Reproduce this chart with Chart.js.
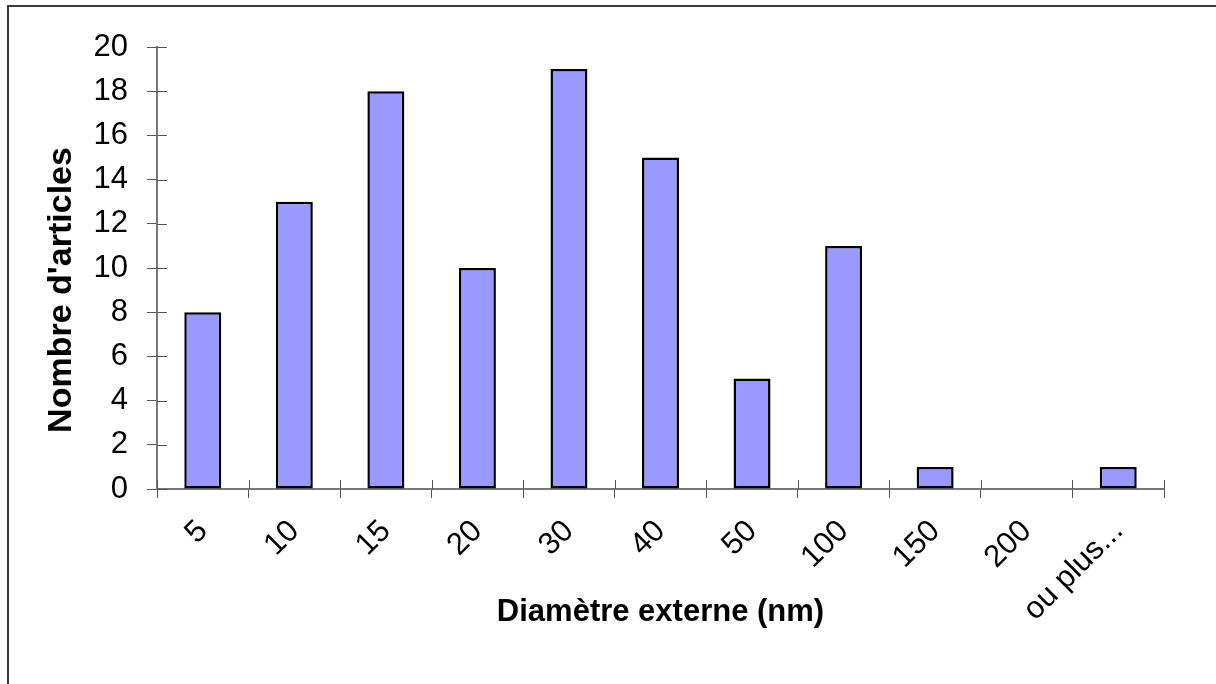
<!DOCTYPE html>
<html>
<head>
<meta charset="utf-8">
<script src="https://cdn.jsdelivr.net/npm/chart.js@4"></script>
<style>
  body { margin: 0; background: #fff; }
  #wrap { position: relative; width: 1216px; height: 684px; overflow: hidden; }
  #cadre { position: absolute; left: 7px; top: 5px; width: 1400px; height: 900px;
           border-left: 2px solid #3a3a3a; border-top: 2px solid #3a3a3a; pointer-events: none; }
</style>
</head>
<body>
<div id="wrap">
  <canvas id="graphique" width="1216" height="684"></canvas>
  <div id="cadre"></div>
</div>
<script>
// =============================
// DONNEES
// =============================
const categories = ["5", "10", "15", "20", "30", "40", "50", "100", "150", "200", "ou plus..."];
const nbArticles = [8, 13, 18, 10, 19, 15, 5, 11, 1, 0, 1];
const yMin = 0, yMax = 20, yPas = 2;
const titreX = "Diamètre externe (nm)";
const titreY = "Nombre d'articles";

const POLICE = "'Liberation Sans', Arial, sans-serif";

// petits traits de graduation du cote interieur des axes
const traitsInterieurs = {
    id: 'traitsInterieurs',
    afterDraw(chart) {
        const ctx = chart.ctx;
        const x = chart.scales.x, y = chart.scales.y;
        ctx.save();
        ctx.strokeStyle = '#555';
        ctx.lineWidth = 1;
        ctx.beginPath();
        y.ticks.forEach((t, i) => {
            const py = Math.round(y.getPixelForTick(i)) + 0.5;
            ctx.moveTo(y.right, py);
            ctx.lineTo(y.right + 10, py);
        });
        const n = categories.length;
        for (let i = 0; i <= n; i++) {
            const px = Math.round(x.left + i * x.width / n) + 0.5;
            ctx.moveTo(px, x.top);
            ctx.lineTo(px, x.top - 9);
        }
        ctx.stroke();

        // titre de l'axe vertical (un peu plus bas que le centre, comme l'original)
        ctx.fillStyle = '#000';
        ctx.font = "bold 34px " + POLICE;
        ctx.textAlign = 'center';
        ctx.textBaseline = 'middle';
        ctx.translate(y.left + 62, (y.top + y.bottom) / 2 + 22);
        ctx.rotate(-Math.PI / 2);
        ctx.fillText(titreY, 0, 0);
        ctx.restore();
    }
};

new Chart(document.getElementById('graphique'), {
    type: 'bar',
    data: {
        labels: categories,
        datasets: [{
            data: nbArticles,
            backgroundColor: '#9999ff',
            borderColor: '#000000',
            borderWidth: 2.5,
            borderSkipped: false,
            barPercentage: 0.404,
            categoryPercentage: 1
        }]
    },
    options: {
        responsive: false,
        animation: false,
        layout: { padding: { top: 47, right: 52, left: 0, bottom: 0 } },
        plugins: { legend: { display: false }, tooltip: { enabled: false } },
        scales: {
            x: {
                offset: true,
                grid: { drawOnChartArea: false, offset: true, tickLength: 9, color: '#555', lineWidth: 1 },
                border: { color: '#777', width: 2 },
                ticks: {
                    color: '#000',
                    font: { family: POLICE, size: 31 },
                    minRotation: 45, maxRotation: 45,
                    padding: 15
                },
                title: {
                    display: true,
                    text: titreX,
                    color: '#000',
                    font: { family: POLICE, size: 31, weight: 'bold' },
                    padding: { top: 0, bottom: 53 }
                },
                afterFit(scale) { scale.height = 684 - 489; }
            },
            y: {
                min: yMin, max: yMax,
                grid: { drawOnChartArea: false, tickLength: 10, color: '#555', lineWidth: 1 },
                border: { color: '#777', width: 2 },
                ticks: {
                    stepSize: yPas,
                    color: '#000',
                    font: { family: POLICE, size: 31 },
                    padding: 19
                },
                afterFit(scale) { scale.width = 157; }
            }
        }
    },
    plugins: [traitsInterieurs]
});
</script>
</body>
</html>
